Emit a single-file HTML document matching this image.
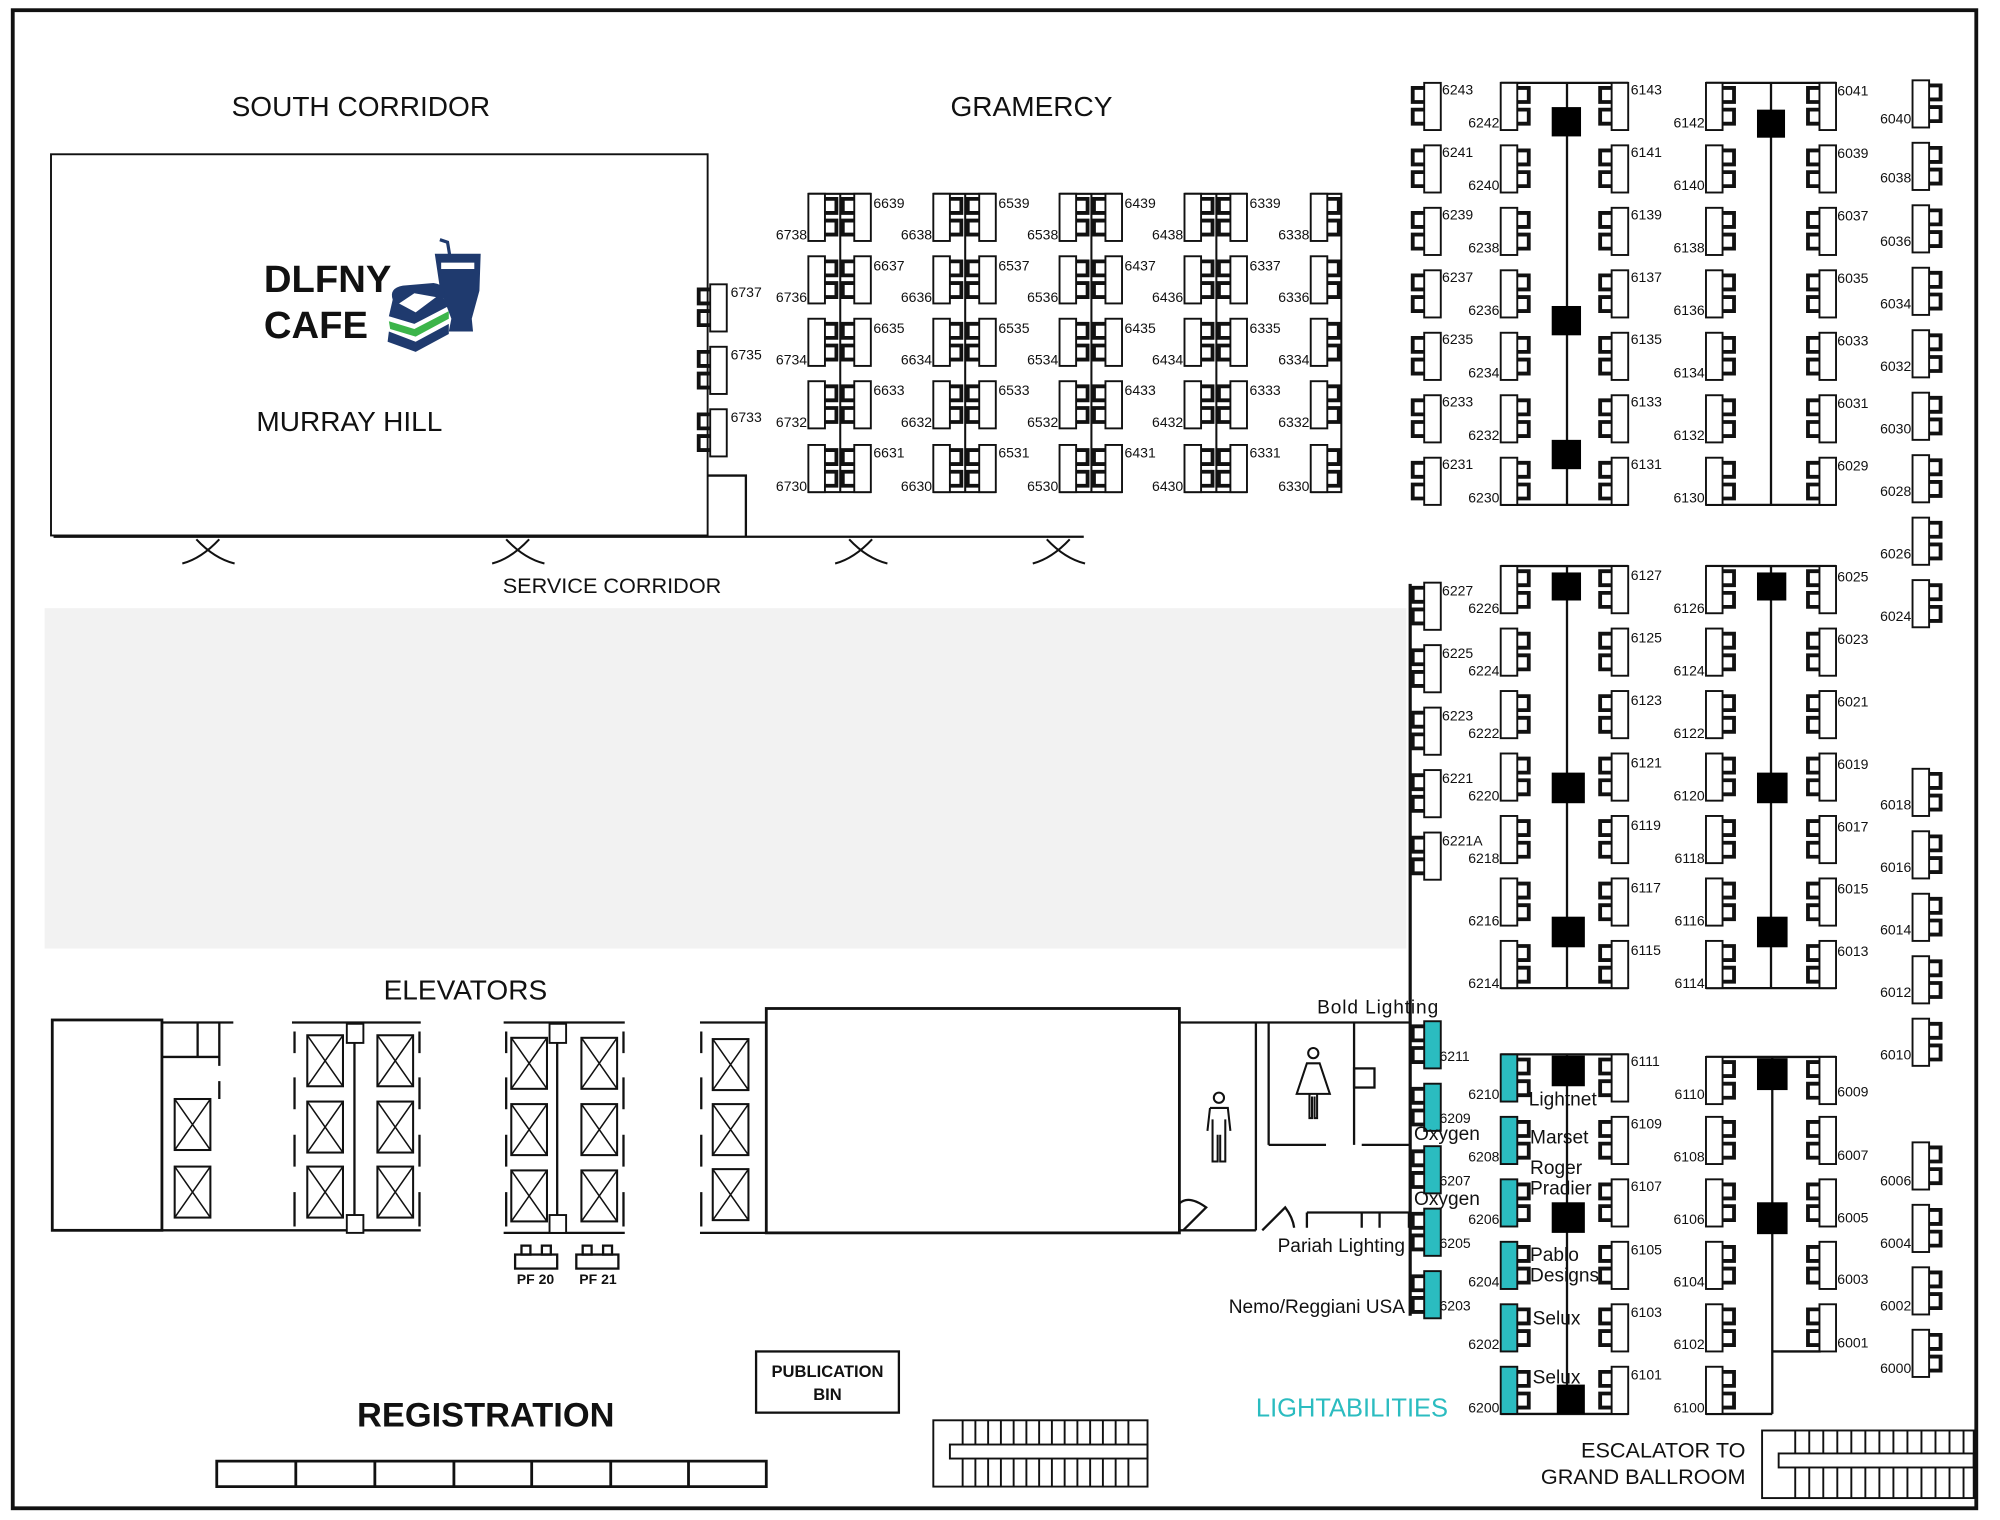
<!DOCTYPE html>
<html><head><meta charset="utf-8"><style>
html,body{margin:0;padding:0;background:#fff}
svg{display:block}
text{font-family:"Liberation Sans",sans-serif;fill:#111}
.n{font-size:11px}
.lb{font-size:15px}
.big{font-size:22px}
</style></head><body>
<svg width="2000" height="1520" viewBox="0 0 1568.6 1192.2" preserveAspectRatio="none" xmlns="http://www.w3.org/2000/svg">
<defs>
<symbol id="BR" overflow="visible"><rect x="0" y="0" width="13" height="37" stroke="#111" stroke-width="1.5"/><path d="M13 4h9v11h-9M13 21h9v11h-9" fill="none" stroke="#111" stroke-width="3"/></symbol>
<symbol id="BL" overflow="visible"><rect x="10" y="0" width="13" height="37" stroke="#111" stroke-width="1.5"/><path d="M10 4h-9v11h9M10 21h-9v11h9" fill="none" stroke="#111" stroke-width="3"/></symbol>
<symbol id="XB" overflow="visible"><rect x="0" y="0" width="28" height="40" fill="#fff" stroke="#111" stroke-width="1.6"/><path d="M0 0L28 40M28 0L0 40" stroke="#111" stroke-width="1.2"/></symbol>
</defs>
<rect x="0" y="0" width="1568.6" height="1192.2" fill="#fff"/>
<rect x="10" y="8" width="1540" height="1175" fill="none" stroke="#111" stroke-width="3"/>

<text x="283" y="91" class="big" text-anchor="middle">SOUTH CORRIDOR</text>
<text x="809" y="91" class="big" text-anchor="middle">GRAMERCY</text>
<rect x="40" y="121" width="515" height="299" fill="#fff" stroke="#111" stroke-width="1.5"/>
<text x="207" y="229" style="font-size:30px;font-weight:bold">DLFNY</text>
<text x="207" y="265" style="font-size:30px;font-weight:bold">CAFE</text>
<path d="M345 188 L351 190 L353 202" fill="none" stroke="#1f3a6e" stroke-width="2.5"/>
<path d="M341 199 L377 199 L376 228 L370 250 L371 260 L352 260 L354 250 L345 226 Z" fill="#1f3a6e"/>
<rect x="346" y="206" width="26" height="5" fill="#fff"/>
<path d="M308 235 Q305 226 316 224 L340 222 Q352 224 348 234 L352 240 L325 254 L305 248 Z" fill="#1f3a6e"/>
<path d="M313 238 L325 230 L342 233 L326 245 Z" fill="#fff"/>
<path d="M305 252 L325 258 L352 244 L352 250 L326 264 L306 258 Z" fill="#3cb54a"/>
<path d="M305 260 L326 268 L352 254 L352 262 L326 276 L304 268 Z" fill="#1f3a6e"/>
<text x="274" y="338" class="big" text-anchor="middle">MURRAY HILL</text>
<path d="M42 421H555M555 373H585V421M555 421H850" fill="none" stroke="#111" stroke-width="1.8"/>
<g fill="none" stroke="#111" stroke-width="1.6">
<path d="M143 442Q158 438 172 423M184 442Q168 438 154 423"/>
<path d="M386 442Q401 438 415 423M427 442Q411 438 397 423"/>
<path d="M655 442Q670 438 684 423M696 442Q680 438 666 423"/>
<path d="M810 442Q825 438 839 423M851 442Q835 438 821 423"/>
</g>
<text x="480" y="465" style="font-size:17px" text-anchor="middle">SERVICE CORRIDOR</text>
<g fill="#fff">
<use href="#BL" x="547" y="223"/>
<use href="#BL" x="547" y="272"/>
<use href="#BL" x="547" y="321"/>
</g>
<text x="573" y="233" class="n">6737</text><text x="573" y="282" class="n">6735</text><text x="573" y="331" class="n">6733</text>
<rect x="35" y="477" width="1068" height="267" fill="#f2f2f2"/>

<g fill="#fff" stroke="#111" stroke-width="1.6">
<path d="M634 152H683M659 152V386M634 386H683" fill="none"/>
<path d="M732 152H781M757 152V386M732 386H781" fill="none"/>
<path d="M831 152H880M856 152V386M831 386H880" fill="none"/>
<path d="M929 152H978M954 152V386M929 386H978" fill="none"/>
<path d="M1028 152H1052V386H1028" fill="none"/>
</g>
<g fill="#fff">
<use href="#BR" x="634" y="152"/><use href="#BR" x="634" y="201"/><use href="#BR" x="634" y="250"/><use href="#BR" x="634" y="299"/><use href="#BR" x="634" y="349"/>
<use href="#BL" x="660" y="152"/><use href="#BL" x="660" y="201"/><use href="#BL" x="660" y="250"/><use href="#BL" x="660" y="299"/><use href="#BL" x="660" y="349"/>
<use href="#BR" x="732" y="152"/><use href="#BR" x="732" y="201"/><use href="#BR" x="732" y="250"/><use href="#BR" x="732" y="299"/><use href="#BR" x="732" y="349"/>
<use href="#BL" x="758" y="152"/><use href="#BL" x="758" y="201"/><use href="#BL" x="758" y="250"/><use href="#BL" x="758" y="299"/><use href="#BL" x="758" y="349"/>
<use href="#BR" x="831" y="152"/><use href="#BR" x="831" y="201"/><use href="#BR" x="831" y="250"/><use href="#BR" x="831" y="299"/><use href="#BR" x="831" y="349"/>
<use href="#BL" x="857" y="152"/><use href="#BL" x="857" y="201"/><use href="#BL" x="857" y="250"/><use href="#BL" x="857" y="299"/><use href="#BL" x="857" y="349"/>
<use href="#BR" x="929" y="152"/><use href="#BR" x="929" y="201"/><use href="#BR" x="929" y="250"/><use href="#BR" x="929" y="299"/><use href="#BR" x="929" y="349"/>
<use href="#BL" x="955" y="152"/><use href="#BL" x="955" y="201"/><use href="#BL" x="955" y="250"/><use href="#BL" x="955" y="299"/><use href="#BL" x="955" y="349"/>
<use href="#BR" x="1028" y="152"/><use href="#BR" x="1028" y="201"/><use href="#BR" x="1028" y="250"/><use href="#BR" x="1028" y="299"/><use href="#BR" x="1028" y="349"/>
</g>
<g class="n">
<text x="633" y="188" text-anchor="end">6738</text><text x="633" y="237" text-anchor="end">6736</text><text x="633" y="286" text-anchor="end">6734</text><text x="633" y="335" text-anchor="end">6732</text><text x="633" y="385" text-anchor="end">6730</text>
<text x="685" y="163">6639</text><text x="685" y="212">6637</text><text x="685" y="261">6635</text><text x="685" y="310">6633</text><text x="685" y="359">6631</text>
<text x="731" y="188" text-anchor="end">6638</text><text x="731" y="237" text-anchor="end">6636</text><text x="731" y="286" text-anchor="end">6634</text><text x="731" y="335" text-anchor="end">6632</text><text x="731" y="385" text-anchor="end">6630</text>
<text x="783" y="163">6539</text><text x="783" y="212">6537</text><text x="783" y="261">6535</text><text x="783" y="310">6533</text><text x="783" y="359">6531</text>
<text x="830" y="188" text-anchor="end">6538</text><text x="830" y="237" text-anchor="end">6536</text><text x="830" y="286" text-anchor="end">6534</text><text x="830" y="335" text-anchor="end">6532</text><text x="830" y="385" text-anchor="end">6530</text>
<text x="882" y="163">6439</text><text x="882" y="212">6437</text><text x="882" y="261">6435</text><text x="882" y="310">6433</text><text x="882" y="359">6431</text>
<text x="928" y="188" text-anchor="end">6438</text><text x="928" y="237" text-anchor="end">6436</text><text x="928" y="286" text-anchor="end">6434</text><text x="928" y="335" text-anchor="end">6432</text><text x="928" y="385" text-anchor="end">6430</text>
<text x="980" y="163">6339</text><text x="980" y="212">6337</text><text x="980" y="261">6335</text><text x="980" y="310">6333</text><text x="980" y="359">6331</text>
<text x="1027" y="188" text-anchor="end">6338</text><text x="1027" y="237" text-anchor="end">6336</text><text x="1027" y="286" text-anchor="end">6334</text><text x="1027" y="335" text-anchor="end">6332</text><text x="1027" y="385" text-anchor="end">6330</text>
</g>

<g fill="none" stroke="#111" stroke-width="1.8">
<path d="M1177 65H1277M1229 65V396M1177 396H1277"/>
<path d="M1338 65H1440M1389 65V396M1338 396H1440"/>
<path d="M1177 444H1277M1229 444V775M1177 775H1277"/>
<path d="M1338 444H1440M1389 444V775M1338 775H1440"/>
<path d="M1177 827H1277M1229 827V1109M1177 1109H1277"/>
<path d="M1338 829H1440M1390 829V1109M1338 1109H1390M1390 1060H1428"/>
<path d="M1106 458V1032" stroke-width="2.5"/>
</g>
<g fill="#000">
<rect x="1217" y="84" width="23" height="23"/><rect x="1217" y="240" width="23" height="23"/><rect x="1217" y="345" width="23" height="23"/>
<rect x="1378" y="86" width="22" height="22"/>
<rect x="1217" y="449" width="23" height="22"/><rect x="1217" y="606" width="26" height="24"/><rect x="1217" y="719" width="26" height="24"/>
<rect x="1378" y="449" width="23" height="22"/><rect x="1378" y="606" width="24" height="24"/><rect x="1378" y="719" width="24" height="24"/>
<rect x="1217" y="828" width="26" height="24"/><rect x="1217" y="943" width="26" height="24"/><rect x="1221" y="1086" width="22" height="23"/>
<rect x="1378" y="830" width="24" height="25"/><rect x="1378" y="943" width="24" height="25"/>
</g>
<g fill="#fff">
<use href="#BL" x="1107" y="65"/><use href="#BL" x="1107" y="114"/><use href="#BL" x="1107" y="163"/><use href="#BL" x="1107" y="212"/><use href="#BL" x="1107" y="261"/><use href="#BL" x="1107" y="310"/><use href="#BL" x="1107" y="359"/>
<use href="#BR" x="1177" y="65"/><use href="#BR" x="1177" y="114"/><use href="#BR" x="1177" y="163"/><use href="#BR" x="1177" y="212"/><use href="#BR" x="1177" y="261"/><use href="#BR" x="1177" y="310"/><use href="#BR" x="1177" y="359"/>
<use href="#BL" x="1254" y="65"/><use href="#BL" x="1254" y="114"/><use href="#BL" x="1254" y="163"/><use href="#BL" x="1254" y="212"/><use href="#BL" x="1254" y="261"/><use href="#BL" x="1254" y="310"/><use href="#BL" x="1254" y="359"/>
<use href="#BR" x="1338" y="65"/><use href="#BR" x="1338" y="114"/><use href="#BR" x="1338" y="163"/><use href="#BR" x="1338" y="212"/><use href="#BR" x="1338" y="261"/><use href="#BR" x="1338" y="310"/><use href="#BR" x="1338" y="359"/>
<use href="#BL" x="1417" y="65"/><use href="#BL" x="1417" y="114"/><use href="#BL" x="1417" y="163"/><use href="#BL" x="1417" y="212"/><use href="#BL" x="1417" y="261"/><use href="#BL" x="1417" y="310"/><use href="#BL" x="1417" y="359"/>
<use href="#BR" x="1500" y="63"/><use href="#BR" x="1500" y="112"/><use href="#BR" x="1500" y="161"/><use href="#BR" x="1500" y="210"/><use href="#BR" x="1500" y="259"/><use href="#BR" x="1500" y="308"/><use href="#BR" x="1500" y="357"/><use href="#BR" x="1500" y="406"/><use href="#BR" x="1500" y="455"/>
<use href="#BR" x="1500" y="603"/><use href="#BR" x="1500" y="652"/><use href="#BR" x="1500" y="701"/><use href="#BR" x="1500" y="750"/><use href="#BR" x="1500" y="799"/>
<use href="#BR" x="1500" y="896"/><use href="#BR" x="1500" y="945"/><use href="#BR" x="1500" y="994"/><use href="#BR" x="1500" y="1043"/>
<use href="#BL" x="1107" y="457"/><use href="#BL" x="1107" y="506"/><use href="#BL" x="1107" y="555"/><use href="#BL" x="1107" y="604"/><use href="#BL" x="1107" y="653"/>
<use href="#BR" x="1177" y="444"/><use href="#BR" x="1177" y="493"/><use href="#BR" x="1177" y="542"/><use href="#BR" x="1177" y="591"/><use href="#BR" x="1177" y="640"/><use href="#BR" x="1177" y="689"/><use href="#BR" x="1177" y="738"/>
<use href="#BL" x="1254" y="444"/><use href="#BL" x="1254" y="493"/><use href="#BL" x="1254" y="542"/><use href="#BL" x="1254" y="591"/><use href="#BL" x="1254" y="640"/><use href="#BL" x="1254" y="689"/><use href="#BL" x="1254" y="738"/>
<use href="#BR" x="1338" y="444"/><use href="#BR" x="1338" y="493"/><use href="#BR" x="1338" y="542"/><use href="#BR" x="1338" y="591"/><use href="#BR" x="1338" y="640"/><use href="#BR" x="1338" y="689"/><use href="#BR" x="1338" y="738"/>
<use href="#BL" x="1417" y="444"/><use href="#BL" x="1417" y="493"/><use href="#BL" x="1417" y="542"/><use href="#BL" x="1417" y="591"/><use href="#BL" x="1417" y="640"/><use href="#BL" x="1417" y="689"/><use href="#BL" x="1417" y="738"/>
<use href="#BL" x="1254" y="827"/><use href="#BL" x="1254" y="876"/><use href="#BL" x="1254" y="925"/><use href="#BL" x="1254" y="974"/><use href="#BL" x="1254" y="1023"/><use href="#BL" x="1254" y="1072"/>
<use href="#BR" x="1338" y="829"/><use href="#BR" x="1338" y="876"/><use href="#BR" x="1338" y="925"/><use href="#BR" x="1338" y="974"/><use href="#BR" x="1338" y="1023"/><use href="#BR" x="1338" y="1072"/>
<use href="#BL" x="1417" y="829"/><use href="#BL" x="1417" y="876"/><use href="#BL" x="1417" y="925"/><use href="#BL" x="1417" y="974"/><use href="#BL" x="1417" y="1023"/>
</g>
<g fill="#2bbcc0">
<use href="#BR" x="1177" y="827"/><use href="#BR" x="1177" y="876"/><use href="#BR" x="1177" y="925"/><use href="#BR" x="1177" y="974"/><use href="#BR" x="1177" y="1023"/><use href="#BR" x="1177" y="1072"/>
<use href="#BL" x="1107" y="801"/><use href="#BL" x="1107" y="850"/><use href="#BL" x="1107" y="899"/><use href="#BL" x="1107" y="948"/><use href="#BL" x="1107" y="997"/>
</g>
<g class="n">
<text x="1131" y="74">6243</text><text x="1131" y="123">6241</text><text x="1131" y="172">6239</text><text x="1131" y="221">6237</text><text x="1131" y="270">6235</text><text x="1131" y="319">6233</text><text x="1131" y="368">6231</text>
<text x="1176" y="100" text-anchor="end">6242</text><text x="1176" y="149" text-anchor="end">6240</text><text x="1176" y="198" text-anchor="end">6238</text><text x="1176" y="247" text-anchor="end">6236</text><text x="1176" y="296" text-anchor="end">6234</text><text x="1176" y="345" text-anchor="end">6232</text><text x="1176" y="394" text-anchor="end">6230</text>
<text x="1279" y="74">6143</text><text x="1279" y="123">6141</text><text x="1279" y="172">6139</text><text x="1279" y="221">6137</text><text x="1279" y="270">6135</text><text x="1279" y="319">6133</text><text x="1279" y="368">6131</text>
<text x="1337" y="100" text-anchor="end">6142</text><text x="1337" y="149" text-anchor="end">6140</text><text x="1337" y="198" text-anchor="end">6138</text><text x="1337" y="247" text-anchor="end">6136</text><text x="1337" y="296" text-anchor="end">6134</text><text x="1337" y="345" text-anchor="end">6132</text><text x="1337" y="394" text-anchor="end">6130</text>
<text x="1441" y="75">6041</text><text x="1441" y="124">6039</text><text x="1441" y="173">6037</text><text x="1441" y="222">6035</text><text x="1441" y="271">6033</text><text x="1441" y="320">6031</text><text x="1441" y="369">6029</text>
<text x="1499" y="97" text-anchor="end">6040</text><text x="1499" y="143" text-anchor="end">6038</text><text x="1499" y="193" text-anchor="end">6036</text><text x="1499" y="242" text-anchor="end">6034</text><text x="1499" y="291" text-anchor="end">6032</text><text x="1499" y="340" text-anchor="end">6030</text><text x="1499" y="389" text-anchor="end">6028</text><text x="1499" y="438" text-anchor="end">6026</text><text x="1499" y="487" text-anchor="end">6024</text>
<text x="1499" y="635" text-anchor="end">6018</text><text x="1499" y="684" text-anchor="end">6016</text><text x="1499" y="733" text-anchor="end">6014</text><text x="1499" y="782" text-anchor="end">6012</text><text x="1499" y="831" text-anchor="end">6010</text>
<text x="1499" y="930" text-anchor="end">6006</text><text x="1499" y="979" text-anchor="end">6004</text><text x="1499" y="1028" text-anchor="end">6002</text><text x="1499" y="1077" text-anchor="end">6000</text>
<text x="1131" y="467">6227</text><text x="1131" y="516">6225</text><text x="1131" y="565">6223</text><text x="1131" y="614">6221</text><text x="1131" y="663">6221A</text>
<text x="1176" y="481" text-anchor="end">6226</text><text x="1176" y="530" text-anchor="end">6224</text><text x="1176" y="579" text-anchor="end">6222</text><text x="1176" y="628" text-anchor="end">6220</text><text x="1176" y="677" text-anchor="end">6218</text><text x="1176" y="726" text-anchor="end">6216</text><text x="1176" y="775" text-anchor="end">6214</text>
<text x="1279" y="455">6127</text><text x="1279" y="504">6125</text><text x="1279" y="553">6123</text><text x="1279" y="602">6121</text><text x="1279" y="651">6119</text><text x="1279" y="700">6117</text><text x="1279" y="749">6115</text>
<text x="1337" y="481" text-anchor="end">6126</text><text x="1337" y="530" text-anchor="end">6124</text><text x="1337" y="579" text-anchor="end">6122</text><text x="1337" y="628" text-anchor="end">6120</text><text x="1337" y="677" text-anchor="end">6118</text><text x="1337" y="726" text-anchor="end">6116</text><text x="1337" y="775" text-anchor="end">6114</text>
<text x="1441" y="456">6025</text><text x="1441" y="505">6023</text><text x="1441" y="554">6021</text><text x="1441" y="603">6019</text><text x="1441" y="652">6017</text><text x="1441" y="701">6015</text><text x="1441" y="750">6013</text>
<text x="1129" y="832">6211</text><text x="1129" y="881">6209</text><text x="1129" y="930">6207</text><text x="1129" y="979">6205</text><text x="1129" y="1028">6203</text>
<text x="1176" y="862" text-anchor="end">6210</text><text x="1176" y="911" text-anchor="end">6208</text><text x="1176" y="960" text-anchor="end">6206</text><text x="1176" y="1009" text-anchor="end">6204</text><text x="1176" y="1058" text-anchor="end">6202</text><text x="1176" y="1108" text-anchor="end">6200</text>
<text x="1279" y="836">6111</text><text x="1279" y="885">6109</text><text x="1279" y="934">6107</text><text x="1279" y="984">6105</text><text x="1279" y="1033">6103</text><text x="1279" y="1082">6101</text>
<text x="1337" y="862" text-anchor="end">6110</text><text x="1337" y="911" text-anchor="end">6108</text><text x="1337" y="960" text-anchor="end">6106</text><text x="1337" y="1009" text-anchor="end">6104</text><text x="1337" y="1058" text-anchor="end">6102</text><text x="1337" y="1108" text-anchor="end">6100</text>
<text x="1441" y="860">6009</text><text x="1441" y="910">6007</text><text x="1441" y="959">6005</text><text x="1441" y="1007">6003</text><text x="1441" y="1057">6001</text>
</g>
<g class="lb">
<text x="1033" y="795" textLength="95">Bold Lighting</text>
<text x="1199" y="867">Lightnet</text>
<text x="1109" y="894">Oxygen</text>
<text x="1200" y="897">Marset</text>
<text x="1200" y="921">Roger</text>
<text x="1200" y="937">Pradier</text>
<text x="1109" y="945">Oxygen</text>
<text x="1102" y="982" text-anchor="end">Pariah Lighting</text>
<text x="1200" y="989">Pablo</text>
<text x="1200" y="1005">Designs</text>
<text x="1102" y="1030" text-anchor="end">Nemo/Reggiani USA</text>
<text x="1202" y="1039">Selux</text>
<text x="1202" y="1085">Selux</text>
</g>
<text x="985" y="1111" style="font-size:20px;fill:#2bbcc0">LIGHTABILITIES</text>
<text x="1369" y="1143" text-anchor="end" style="font-size:17px">ESCALATOR TO</text>
<text x="1369" y="1164" text-anchor="end" style="font-size:17px">GRAND BALLROOM</text>
<g fill="none" stroke="#111" stroke-width="1.5">
<rect x="1382" y="1122" width="166" height="53"/>
<rect x="1395" y="1140" width="153" height="11"/>
<path d="M1408 1122V1140M1419 1122V1140M1430 1122V1140M1441 1122V1140M1452 1122V1140M1463 1122V1140M1474 1122V1140M1485 1122V1140M1496 1122V1140M1507 1122V1140M1518 1122V1140M1529 1122V1140M1540 1122V1140"/>
<path d="M1408 1151V1175M1419 1151V1175M1430 1151V1175M1441 1151V1175M1452 1151V1175M1463 1151V1175M1474 1151V1175M1485 1151V1175M1496 1151V1175M1507 1151V1175M1518 1151V1175M1529 1151V1175M1540 1151V1175"/>
<rect x="732" y="1114" width="168" height="52"/>
<rect x="745" y="1133" width="155" height="11"/>
<path d="M755 1114V1133M765 1114V1133M775 1114V1133M785 1114V1133M795 1114V1133M805 1114V1133M815 1114V1133M825 1114V1133M835 1114V1133M845 1114V1133M855 1114V1133M865 1114V1133M875 1114V1133M885 1114V1133"/>
<path d="M755 1144V1166M765 1144V1166M775 1144V1166M785 1144V1166M795 1144V1166M805 1144V1166M815 1144V1166M825 1144V1166M835 1144V1166M845 1144V1166M855 1144V1166M865 1144V1166M875 1144V1166M885 1144V1166"/>
</g>

<text x="365" y="784" class="big" text-anchor="middle">ELEVATORS</text>
<g fill="none" stroke="#111" stroke-width="1.8">
<rect x="41" y="800" width="86" height="165" stroke-width="2.2"/>
<path d="M127 802H183M127 829H172M155 802V829M172 802V836M172 848V862M127 965H330M229 802H330M231 809V826M231 845V870M231 890V915M231 935V962M329 809V826M329 845V870M329 890V915M329 935V962M278 815V955"/>
<path d="M395 802H490M395 967H490M397 809V826M397 845V870M397 890V915M397 935V962M489 809V826M489 845V870M489 890V915M489 935V962M437 815V955"/>
<path d="M549 802H601M549 967H601M550 809V826M550 845V870M550 890V915M550 935V962"/>
<rect x="601" y="791" width="324" height="176" stroke-width="2.2"/>
<path d="M925 802H1105M985 802V965M995 802V898M1062 802V898M995 898H1040M1068 898H1105M925 965H985M1025 951H1105V963M1025 951V963M1068 951V963M1082 951V963"/>
<path d="M928 965L946 947Q932 937 925 944M990 965L1008 947Q1014 955 1015 963"/>
<rect x="1062" y="838" width="16" height="15"/>
<rect x="404" y="984" width="33" height="11"/><rect x="409" y="977" width="7" height="7"/><rect x="425" y="977" width="7" height="7"/>
<rect x="452" y="984" width="33" height="11"/><rect x="457" y="977" width="7" height="7"/><rect x="473" y="977" width="7" height="7"/>
<rect x="593" y="1060" width="112" height="48"/>
<path d="M170 1146H601V1166H170Z M232 1146V1166M294 1146V1166M356 1146V1166M417 1146V1166M479 1146V1166M540 1146V1166" stroke-width="2.2"/>
</g>
<g fill="#fff">
<rect x="272" y="803" width="13" height="15" stroke="#111" stroke-width="1.5"/><rect x="272" y="953" width="13" height="14" stroke="#111" stroke-width="1.5"/>
<rect x="431" y="803" width="13" height="15" stroke="#111" stroke-width="1.5"/><rect x="431" y="953" width="13" height="14" stroke="#111" stroke-width="1.5"/>
</g>
<use href="#XB" x="137" y="862"/>
<use href="#XB" x="137" y="915"/>
<use href="#XB" x="241" y="812"/><use href="#XB" x="241" y="864"/><use href="#XB" x="241" y="915"/>
<use href="#XB" x="296" y="812"/><use href="#XB" x="296" y="864"/><use href="#XB" x="296" y="915"/>
<use href="#XB" x="401" y="814"/><use href="#XB" x="401" y="866"/><use href="#XB" x="401" y="918"/>
<use href="#XB" x="456" y="814"/><use href="#XB" x="456" y="866"/><use href="#XB" x="456" y="918"/>
<use href="#XB" x="559" y="815"/><use href="#XB" x="559" y="866"/><use href="#XB" x="559" y="917"/>
<text x="420" y="1007" text-anchor="middle" style="font-size:11px;font-weight:bold">PF 20</text>
<text x="469" y="1007" text-anchor="middle" style="font-size:11px;font-weight:bold">PF 21</text>
<text x="649" y="1080" text-anchor="middle" style="font-size:13px;font-weight:bold">PUBLICATION</text>
<text x="649" y="1098" text-anchor="middle" style="font-size:13px;font-weight:bold">BIN</text>
<text x="381" y="1119" text-anchor="middle" style="font-size:27px;font-weight:bold">REGISTRATION</text>
<g fill="none" stroke="#111" stroke-width="1.6">
<circle cx="956" cy="861" r="4"/>
<path d="M949 869H963L965 887M949 869L947 887M951 878V911H955V890M961 878V911H957V890"/>
<circle cx="1030" cy="826" r="4"/>
<path d="M1025 834H1035L1043 858H1017Z M1027 858V877H1029V860M1033 858V877H1031V860"/>
</g>
</svg>
</body></html>
